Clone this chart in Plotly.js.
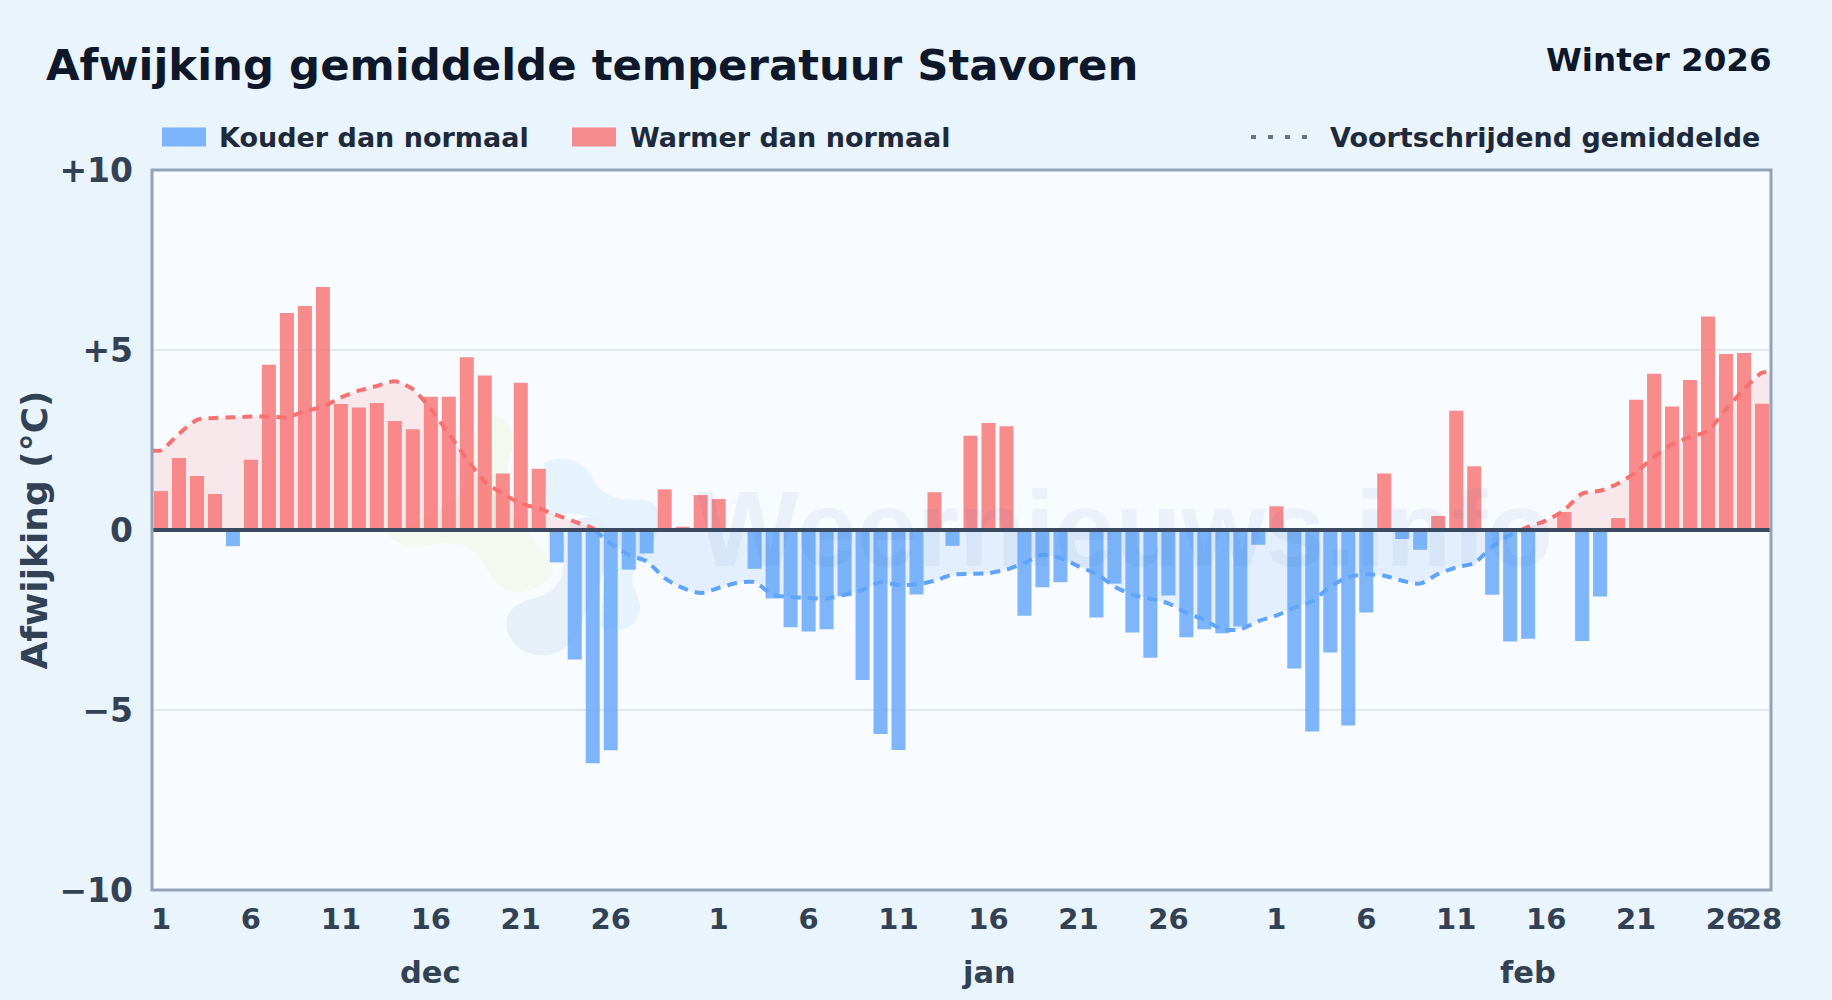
<!DOCTYPE html>
<html>
<head>
<meta charset="utf-8">
<script src="https://cdn.plot.ly/plotly-3.0.1.min.js"></script>
<style>html,body{margin:0;padding:0;background:#e9f4fd;}#chart{width:1832px;height:1000px;}</style>
</head>
<body>
<div id="chart"></div>
<script>
// Daily deviation (°C) per day of winter: Dec 1 .. Feb 28
const deviation = [
 1.08,2.0,1.5,1.0,-0.45,1.95,4.59,6.03,6.22,6.75,3.5,3.4,3.53,3.03,2.8,3.7,3.7,4.8,4.29,1.57,4.09,1.7,-0.9,-3.6,-6.48,-6.12,-1.1,-0.65,1.13,0.09,0.97,0.86,
 0,-1.08,-1.9,-2.7,-2.82,-2.76,-1.84,-4.17,-5.67,-6.11,-1.79,1.05,-0.44,2.62,2.97,2.88,-2.38,-1.59,-1.45,0,-2.43,-1.49,-2.85,-3.55,-1.82,-2.98,-2.76,-2.87,-2.68,-0.41,
 0.66,-3.85,-5.6,-3.4,-5.43,-2.29,1.57,-0.25,-0.55,0.39,3.31,1.77,-1.8,-3.1,-3.02,0,0.5,-3.08,-1.85,0.33,3.62,4.34,3.43,4.17,5.93,4.89,4.92,3.51
];
// Rolling mean (°C), one value per day
const rollingMean = [
 2.21,2.67,3.06,3.11,3.13,3.15,3.15,3.13,3.3,3.43,3.68,3.87,4.0,4.13,3.91,3.36,2.67,1.98,1.34,1.01,0.74,0.6,0.41,0.23,0.05,
 -0.37,-0.69,-0.87,-1.34,-1.61,-1.75,-1.61,-1.47,-1.45,-1.8,-1.86,-1.89,-1.9,-1.8,-1.66,-1.45,-1.53,-1.51,-1.41,-1.24,-1.22,-1.2,-1.1,-0.92,-0.69,-0.78,-1.01,
 -1.22,-1.57,-1.8,-1.91,-2.04,-2.3,-2.5,-2.76,-2.76,-2.53,-2.38,-2.16,-1.98,-1.57,-1.31,-1.23,-1.27,-1.41,-1.49,-1.22,-1.04,-0.92,-0.46,-0.14,
 0.09,0.26,0.55,1.01,1.09,1.29,1.61,2.03,2.39,2.58,2.76,3.36,3.91,4.37
];
const xTickPositions = [0,5,10,15,20,25,31,36,41,46,51,56,62,67,72,77,82,87,89];
const xTickLabels = ["1","6","11","16","21","26","1","6","11","16","21","26","1","6","11","16","21","26","28"];
const monthNames = ["dec","jan","feb"];
const monthCenters = [15,46,76];
const yTickValues = [-10,-5,0,5,10];
const yTickLabels = ["\u221210","\u22125","0","+5","+10"];

const WARM='#f87171', COLD='#60a5fa', INK='#0f172a', TEXT='#1e293b', AXIS='#334155';
const FONT='"DejaVu Sans", sans-serif';
const P={l:152,r:61,t:169.5,b:109.5,W:1832,H:1000};
const pw=P.W-P.l-P.r, ph=P.H-P.t-P.b;
const fx=x=>(x-P.l)/pw, fy=y=>1-(y-P.t)/ph;

const days=deviation.map((_,i)=>i);
const lastDay=rollingMean.length-1;

// split the rolling mean at its zero crossings so each part takes its own colour;
// the first and last values are held out to the edges of the frame
function segments(){
  const out=[]; let cur=null;
  rollingMean.forEach((v,i)=>{
    const s=v>=0;
    if(cur&&cur.s!==s){
      const p=rollingMean[i-1], xp=i-1;
      const xc=xp+p/(p-v);
      cur.x.push(xc);cur.y.push(0);out.push(cur);
      cur={s,x:[xc],y:[0]};
    }
    if(!cur)cur={s,x:[],y:[]};
    if(i===0){cur.x.push(-0.5);cur.y.push(v);}
    cur.x.push(i);cur.y.push(v);
    if(i===lastDay){cur.x.push(lastDay+0.5);cur.y.push(v);}
  });
  out.push(cur);return out;
}
const traces=[{
  type:'bar',x:days,y:deviation,width:0.78,hoverinfo:'x+y',
  marker:{color:deviation.map(v=>v<0?COLD:WARM),opacity:0.8,line:{width:0}}
}];
segments().forEach(s=>traces.push({
  type:'scatter',mode:'lines',x:s.x,y:s.y,fill:'tozeroy',
  fillcolor:s.s?'rgba(248,113,113,0.14)':'rgba(96,165,250,0.14)',
  line:{color:s.s?WARM:COLD,width:4,dash:'10px,7px',shape:'spline',smoothing:0.7},
  hoverinfo:'skip'
}));

function txt(text,x,y,size,color,anchor){
  return {text,xref:'paper',yref:'paper',x:fx(x),y:fy(y),xanchor:anchor||'left',yanchor:'middle',showarrow:false,
          font:{family:FONT,size,color,weight:700}};
}
// decorative watermark blobs, in picture pixels
function blob(d,fill){
  const conv=d.replace(/(-?[\d.]+),(-?[\d.]+)/g,(m,a,b)=>fx(370+a/3)+','+fy(400+b/3));
  return {type:'path',xref:'paper',yref:'paper',path:conv,fillcolor:fill,line:{width:0},layer:'below'};
}
const shapes=[
 blob('M 50,395 C 70,430 120,450 180,435 C 260,420 310,440 340,490 C 370,560 420,590 480,570 C 530,555 560,520 545,490 C 520,440 480,410 440,360 C 400,300 400,240 420,170 C 440,110 420,50 370,45 C 320,60 300,130 280,250 C 260,320 150,360 50,395 Z','#f3f8f1'),
 blob('M 520,190 C 570,160 640,180 665,230 C 690,285 740,300 800,298 C 860,295 880,330 860,400 C 840,450 790,500 785,540 C 800,590 830,620 790,670 C 760,700 720,690 690,680 C 700,560 725,450 720,400 C 700,350 620,330 540,345 C 530,300 520,240 520,190 Z','#e6f3fc'),
 blob('M 410,680 C 405,625 450,605 510,590 C 570,570 585,520 580,470 C 570,400 600,350 660,350 C 710,350 730,390 720,450 C 700,550 640,650 620,700 C 590,760 540,770 500,765 C 450,760 415,720 410,680 Z','#e7f0f8'),
 // legend swatches
 {type:'rect',xref:'paper',yref:'paper',x0:fx(162),x1:fx(206),y0:fy(146),y1:fy(127),fillcolor:COLD,opacity:0.8,line:{width:0}},
 {type:'rect',xref:'paper',yref:'paper',x0:fx(572),x1:fx(616),y0:fy(146),y1:fy(127),fillcolor:WARM,opacity:0.8,line:{width:0}},
 {type:'line',xref:'paper',yref:'paper',x0:fx(1251),x1:fx(1308),y0:fy(136.5),y1:fy(136.5),line:{color:'#64748b',width:4,dash:'5px,12px'}},
 // zero line and frame, above the bars
 {type:'line',xref:'paper',yref:'y',x0:0,x1:1,y0:0,y1:0,line:{color:'#3b4a60',width:4},layer:'above'},
 {type:'rect',xref:'paper',yref:'paper',x0:0,x1:1,y0:0,y1:1,line:{color:'#94a3b8',width:3},fillcolor:'rgba(0,0,0,0)',layer:'above'}
];
const annotations=[
 txt('Winter 2026',1774,59,32.5,INK,'right'),
 txt('Kouder dan normaal',217,137,27,TEXT),
 txt('Warmer dan normaal',628,137,27,TEXT),
 txt('Voortschrijdend gemiddelde',1328,137,27,TEXT),
 {text:'Weernieuws.info',xref:'paper',yref:'paper',x:fx(1125),y:fy(528),xanchor:'center',yanchor:'middle',showarrow:false,
  font:{family:'"Liberation Sans", sans-serif',size:108,color:'rgba(30,90,170,0.06)',weight:700}}
];
monthNames.forEach((m,i)=>annotations.push({text:m,xref:'x',yref:'paper',x:monthCenters[i],y:fy(973),xanchor:'center',yanchor:'middle',showarrow:false,
  font:{family:FONT,size:30.5,color:AXIS,weight:700}}));

const layout={
 width:P.W,height:P.H,margin:{l:P.l,r:P.r,t:P.t,b:P.b,pad:0},
 paper_bgcolor:'#e9f4fd',plot_bgcolor:'#f8fbff',showlegend:false,
 title:{text:'Afwijking gemiddelde temperatuur Stavoren',x:46/P.W,xanchor:'left',xref:'container',y:1-65/P.H,yanchor:'middle',
   font:{family:FONT,size:43.4,color:INK,weight:700}},
 xaxis:{type:'linear',range:[-0.5,89.5],tickmode:'array',tickvals:xTickPositions,ticktext:xTickLabels,tickangle:0,
   showgrid:false,zeroline:false,showline:false,ticks:'',ticklen:0,ticklabelstandoff:9,
   tickfont:{family:FONT,size:29,color:AXIS,weight:700}},
 yaxis:{range:[-10,10],tickmode:'array',tickvals:yTickValues,ticktext:yTickLabels,
   showgrid:true,gridcolor:'#e2e8ee',gridwidth:2,zeroline:false,showline:false,ticks:'',ticklen:0,ticklabelstandoff:18,
   tickfont:{family:FONT,size:33,color:AXIS,weight:700},
   title:{text:'Afwijking (\u00b0C)',standoff:0,font:{family:FONT,size:36,color:AXIS,weight:700}}},
 shapes,annotations
};
Plotly.newPlot('chart',traces,layout,{displayModeBar:false,responsive:false});
</script>
</body>
</html>
